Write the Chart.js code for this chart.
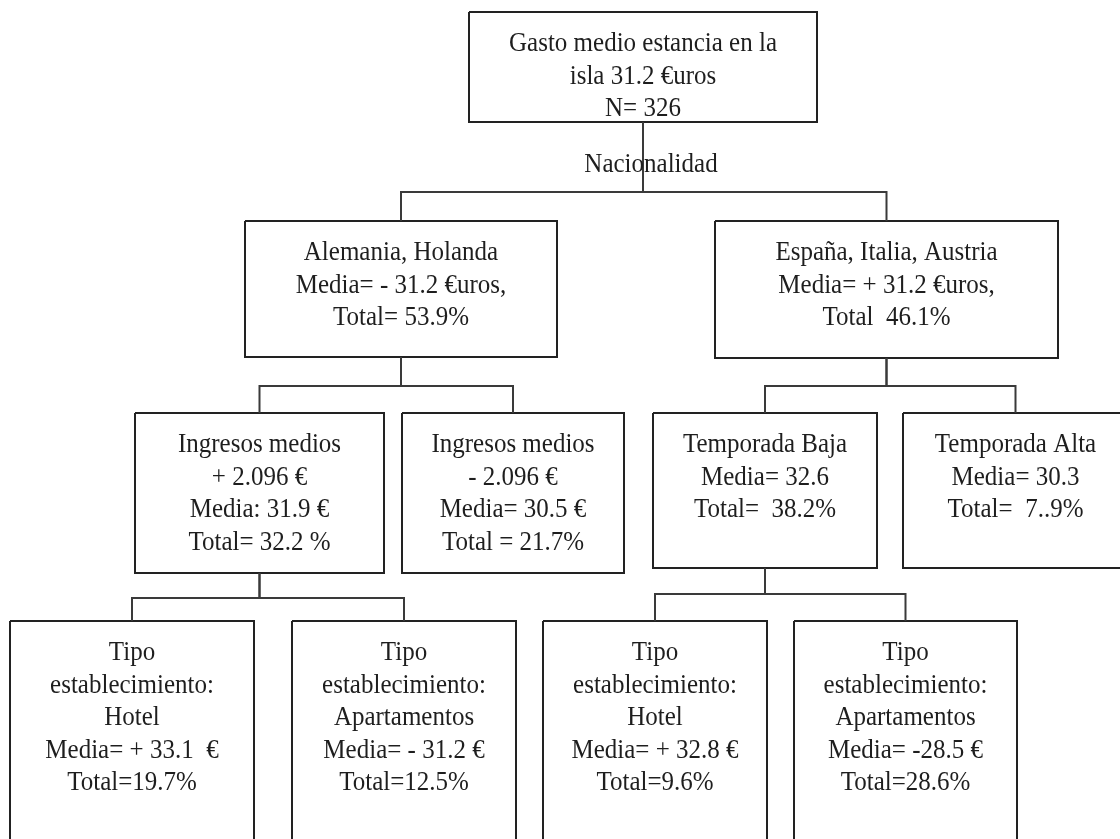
<!DOCTYPE html>
<html>
<head>
<meta charset="utf-8">
<script src="https://cdn.jsdelivr.net/npm/chart.js@4"></script>
<style>
  html, body { margin: 0; padding: 0; background: #fff; }
  canvas { display: block; }
</style>
</head>
<body>
<canvas id="tree" width="1120" height="839"></canvas>
<script>
  // Node texts of the segmentation tree
  const nodeText = [
    ["Gasto medio estancia en la", "isla 31.2 \u20acuros", "N= 326"],
    ["Alemania, Holanda", "Media= - 31.2 \u20acuros,", "Total= 53.9%"],
    ["Espa\u00f1a, Italia, Austria", "Media= + 31.2 \u20acuros,", "Total  46.1%"],
    ["Ingresos medios", "+ 2.096 \u20ac", "Media: 31.9 \u20ac", "Total= 32.2 %"],
    ["Ingresos medios", "- 2.096 \u20ac", "Media= 30.5 \u20ac", "Total = 21.7%"],
    ["Temporada Baja", "Media= 32.6", "Total=  38.2%"],
    ["Temporada Alta", "Media= 30.3", "Total=  7..9%"],
    ["Tipo", "establecimiento:", "Hotel", "Media= + 33.1  \u20ac", "Total=19.7%"],
    ["Tipo", "establecimiento:", "Apartamentos", "Media= - 31.2 \u20ac", "Total=12.5%"],
    ["Tipo", "establecimiento:", "Hotel", "Media= + 32.8 \u20ac", "Total=9.6%"],
    ["Tipo", "establecimiento:", "Apartamentos", "Media= -28.5 \u20ac", "Total=28.6%"]
  ];
  const parentOf = [null, 0, 0, 1, 1, 2, 2, 3, 3, 5, 5];
  const splitLabel = ["Nacionalidad", "", "", "", "", "", "", "", "", "", ""];

  // layout of the boxes, in diagram units (x: 0..1120, y: 0..839 downwards)
  const boxLeft   = [469, 245, 715, 135, 402, 653, 903, 10, 292, 543, 794];
  const boxRight  = [817, 557, 1058, 384, 624, 877, 1128, 254, 516, 767, 1017];
  const boxTop    = [12, 221, 221, 413, 413, 413, 413, 621, 621, 621, 621];
  const boxBottom = [122, 357, 358, 573, 573, 568, 568, 870, 870, 870, 870];
  const busY      = [192, 386, 386, 598, null, 594, null, null, null, null, null];

  const FONT = "25px 'Liberation Serif', 'Times New Roman', serif";
  const TEXT_COLOR = "#1e1e1e";
  const STRETCH_Y = 1.1; // the original lettering is a bit taller than wide
  const LINE_GAP = 32.5;
  const FIRST_LINE = 32;

  const centerX = function (i) { return (boxLeft[i] + boxRight[i]) / 2; };

  const datasets = [];

  // connectors: parent bottom -> bus -> child top
  parentOf.forEach(function (p, i) {
    if (p === null) return;
    datasets.push({
      data: [
        { x: centerX(p), y: boxBottom[p] },
        { x: centerX(p), y: busY[p] },
        { x: centerX(i), y: busY[p] },
        { x: centerX(i), y: boxTop[i] }
      ],
      showLine: true,
      borderColor: "#3a3a3a",
      borderWidth: 2,
      pointRadius: 0,
      borderJoinStyle: "miter",
      tension: 0
    });
  });

  // boxes as closed outlines
  nodeText.forEach(function (lines, i) {
    datasets.push({
      data: [
        { x: boxLeft[i], y: boxTop[i] },
        { x: boxRight[i], y: boxTop[i] },
        { x: boxRight[i], y: boxBottom[i] },
        { x: boxLeft[i], y: boxBottom[i] },
        { x: boxLeft[i], y: boxTop[i] }
      ],
      showLine: true,
      borderColor: "#222",
      borderWidth: 2,
      pointRadius: 0,
      borderJoinStyle: "miter",
      tension: 0
    });
  });

  const drawLine = function (ctx, text, x, y) {
    ctx.save();
    ctx.translate(x, y);
    ctx.scale(1, STRETCH_Y);
    ctx.fillText(text, 0, 0);
    ctx.restore();
  };

  const textPlugin = {
    id: "nodeText",
    afterDatasetsDraw: function (chart) {
      const ctx = chart.ctx;
      const xs = chart.scales.x;
      const ys = chart.scales.y;
      ctx.save();
      ctx.font = FONT;
      ctx.fillStyle = TEXT_COLOR;
      ctx.textAlign = "center";
      ctx.textBaseline = "middle";
      nodeText.forEach(function (lines, i) {
        const cx = xs.getPixelForValue(centerX(i));
        lines.forEach(function (line, k) {
          drawLine(ctx, line, cx, ys.getPixelForValue(boxTop[i] + FIRST_LINE + k * LINE_GAP));
        });
        if (splitLabel[i]) {
          drawLine(ctx, splitLabel[i],
            xs.getPixelForValue(centerX(i) + 8),
            ys.getPixelForValue(busY[i] - 27));
        }
      });
      ctx.restore();
    }
  };

  new Chart(document.getElementById("tree").getContext("2d"), {
    type: "scatter",
    data: { datasets: datasets },
    options: {
      responsive: false,
      animation: false,
      layout: { padding: 0 },
      clip: false,
      plugins: {
        legend: { display: false },
        tooltip: { enabled: false }
      },
      scales: {
        x: { type: "linear", min: 0, max: 1120, display: false },
        y: { type: "linear", min: 0, max: 839, reverse: true, display: false }
      }
    },
    plugins: [textPlugin]
  });
</script>
</body>
</html>
